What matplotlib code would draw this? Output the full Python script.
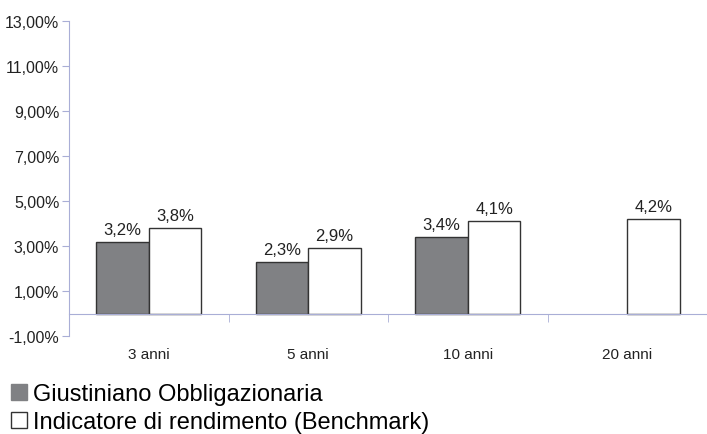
import numpy as np
import matplotlib.pyplot as plt
from matplotlib.patches import Patch

plt.rcParams['font.family'] = ['Liberation Sans', 'DejaVu Sans']

# Data
categories = ['3 anni', '5 anni', '10 anni', '20 anni']
fondo = [3.2, 2.3, 3.4, np.nan]
benchmark = [3.8, 2.9, 4.1, 4.2]
yticks = [-1, 1, 3, 5, 7, 9, 11, 13]
series_names = ['Giustiniano Obbligazionaria', 'Indicatore di rendimento (Benchmark)']

gray = '#808184'
axis_col = '#a9aed6'

fig = plt.figure(figsize=(7.07, 4.35), dpi=100)
ax = fig.add_axes([69 / 707, 1 - 337 / 435, 1 - 69 / 707, (337 - 22) / 435])

x = np.arange(len(categories))
w = 0.33
b1 = ax.bar(x - w / 2, fondo, w, color=gray, edgecolor='#333333', linewidth=1)
b2 = ax.bar(x + w / 2, benchmark, w, color='white', edgecolor='#333333', linewidth=1)

for bars, vals in ((b1, fondo), (b2, benchmark)):
    for rect, v in zip(bars, vals):
        if np.isnan(v):
            continue
        ax.text(rect.get_x() + rect.get_width() / 2, v + 0.22, f'{v:.1f}%'.replace('.', ','),
                ha='center', va='bottom', fontsize=12, color='#222222')

ax.set_xlim(-0.5, len(categories) - 0.5)
ax.set_ylim(-1, 13)
ax.set_yticks(yticks)
ax.set_yticklabels([f'{t:.2f}%'.replace('.', ',') for t in yticks], fontsize=11.5, color='#222222')

for s in ('top', 'right'):
    ax.spines[s].set_visible(False)
ax.spines['left'].set_color(axis_col)
ax.spines['bottom'].set_color(axis_col)
ax.spines['bottom'].set_position(('data', 0))
ax.tick_params(axis='y', colors=axis_col, length=5, pad=2, labelcolor='#222222')

ax.set_xticks(x)
ax.set_xticklabels(categories, fontsize=11, color='#222222')
ax.set_xticks(x[:-1] + 0.5, minor=True)
ax.tick_params(axis='x', which='major', length=0, pad=24)
ax.tick_params(axis='x', which='minor', length=6, color=axis_col)

handles = [Patch(facecolor=gray, edgecolor=gray), Patch(facecolor='white', edgecolor='#333333', linewidth=1)]
fig.legend(handles, series_names, loc='upper left', bbox_to_anchor=(11 / 707, 1 - 384 / 435),
           frameon=False, fontsize=17, handlelength=0.68, handleheight=0.68,
           handletextpad=0.25, labelspacing=0.25, borderaxespad=0, borderpad=0)

fig.savefig('out.png', dpi=100)
